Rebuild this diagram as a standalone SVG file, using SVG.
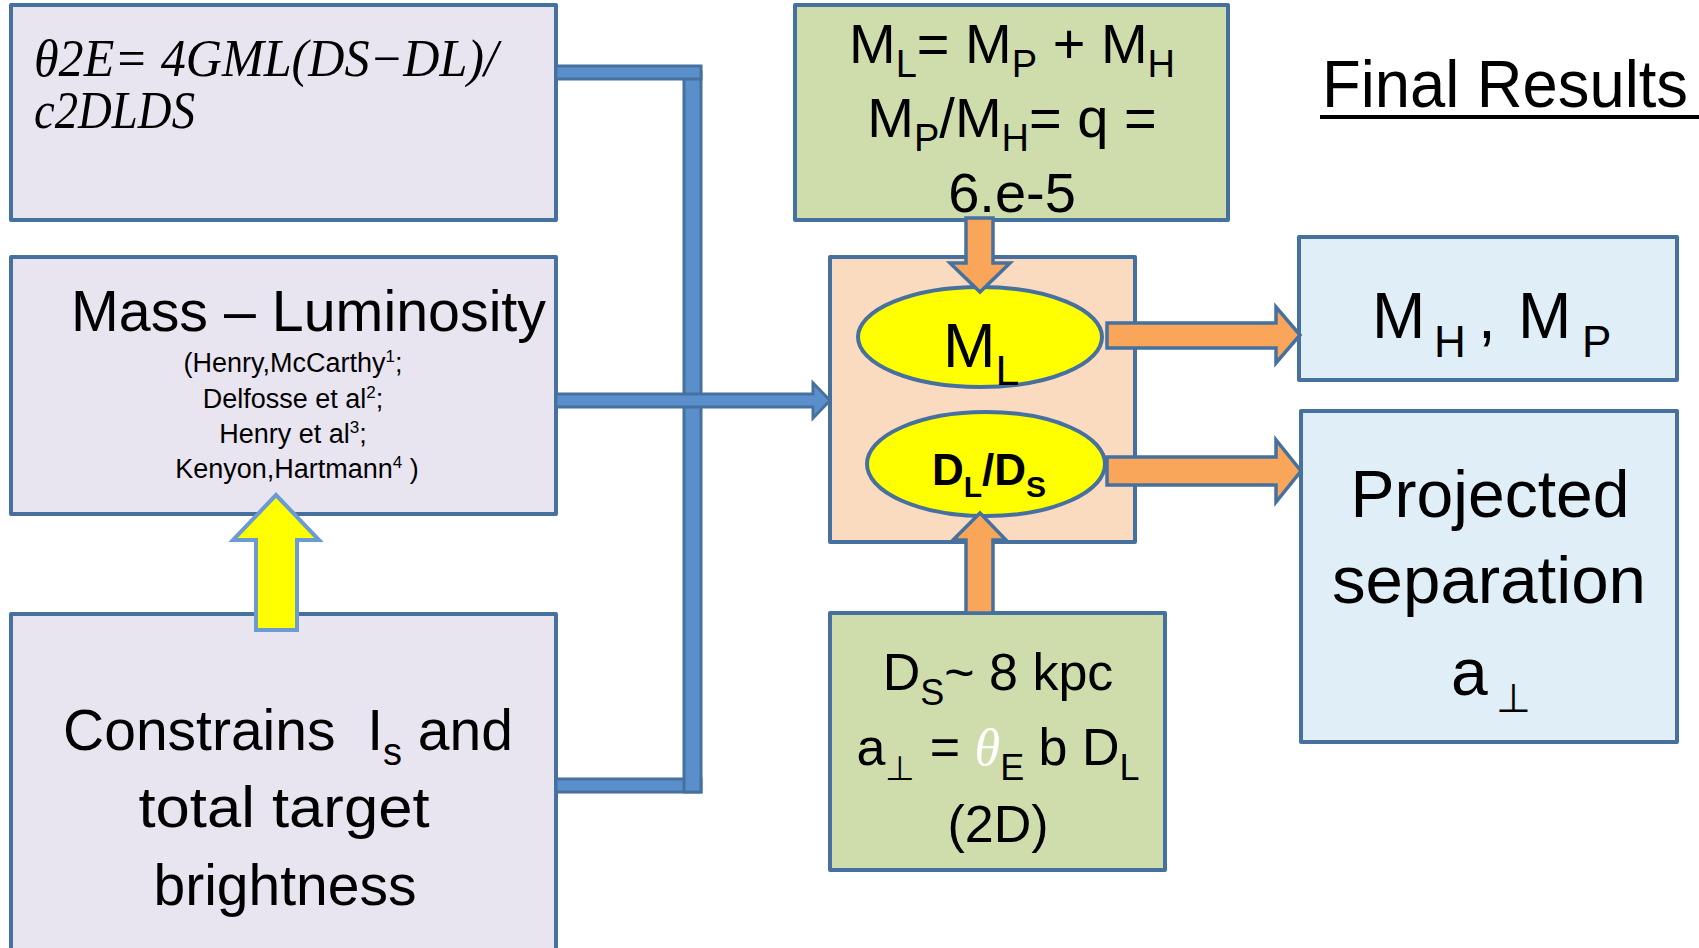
<svg xmlns="http://www.w3.org/2000/svg" width="1699" height="948" viewBox="0 0 1699 948">
<style>
.box{stroke:#46719F;stroke-width:4;stroke-linejoin:round}
.lav{fill:#E9E5F0}
.grn{fill:#CFDDAD}
.pch{fill:#FBDBC0}
.lbl{fill:#DFEEF7}
.ell{fill:#FFFF00;stroke:#46719F;stroke-width:4}
.t{font-family:"Liberation Sans",Arial,sans-serif;fill:#000}
.m{font-family:"Liberation Serif","Times New Roman",serif;font-style:italic}
.sm{font-size:27px}
.conn{fill:#5B8FCB;stroke:#46719F;stroke-width:3;stroke-linejoin:miter}
.orng{fill:#F9A65A;stroke:#46719F;stroke-width:3.5;stroke-linejoin:miter}
.yarr{fill:#FFFF00;stroke:#6C9BD2;stroke-width:4;stroke-linejoin:miter}
</style>
<rect width="1699" height="948" fill="#fff"/>

<g id="formula">
<rect class="box lav" x="11" y="5" width="545" height="215"/>
<text class="m" x="34" y="76" font-size="52" textLength="464" lengthAdjust="spacingAndGlyphs">θ2E= 4GML(DS−DL)/</text>
<text class="m" x="34" y="128" font-size="52" textLength="161" lengthAdjust="spacingAndGlyphs">c2DLDS</text>
</g>

<g id="mass-luminosity">
<rect class="box lav" x="11" y="257" width="545" height="257"/>
<text class="t" x="71" y="331" font-size="57" textLength="475" lengthAdjust="spacingAndGlyphs">Mass – Luminosity</text>
<text class="t sm" x="293" y="372" text-anchor="middle">(Henry,McCarthy<tspan font-size="17" dy="-10">1</tspan><tspan dy="10">;</tspan></text>
<text class="t sm" x="293" y="408" text-anchor="middle">Delfosse et al<tspan font-size="17" dy="-10">2</tspan><tspan dy="10">;</tspan></text>
<text class="t sm" x="293" y="443" text-anchor="middle">Henry et al<tspan font-size="17" dy="-10">3</tspan><tspan dy="10">;</tspan></text>
<text class="t sm" x="297" y="478" text-anchor="middle">Kenyon,Hartmann<tspan font-size="17" dy="-10">4</tspan><tspan dy="10"> )</tspan></text>
</g>

<g id="constrains">
<rect class="box lav" x="11" y="614" width="545" height="360"/>
<text class="t" x="288" y="750" font-size="57" text-anchor="middle" xml:space="preserve">Constrains  I<tspan font-size="38" dy="15">s</tspan><tspan dy="-15"> and</tspan></text>
<text class="t" x="284" y="827" font-size="57" text-anchor="middle" textLength="291" lengthAdjust="spacingAndGlyphs">total target</text>
<text class="t" x="285" y="905" font-size="57" text-anchor="middle">brightness</text>
</g>

<g id="mass-relation">
<rect class="box grn" x="795" y="5" width="433" height="215"/>
<text class="t" x="1012" y="63" font-size="56" text-anchor="middle">M<tspan font-size="38" dy="14">L</tspan><tspan dy="-14">= M</tspan><tspan font-size="38" dy="14">P</tspan><tspan dy="-14"> + M</tspan><tspan font-size="38" dy="14">H</tspan></text>
<text class="t" x="1012" y="137" font-size="56" text-anchor="middle">M<tspan font-size="38" dy="14">P</tspan><tspan dy="-14">/M</tspan><tspan font-size="38" dy="14">H</tspan><tspan dy="-14">= q =</tspan></text>
<text class="t" x="1012" y="212" font-size="56" text-anchor="middle">6.e-5</text>
</g>

<g id="lens">
<rect class="box pch" x="830" y="257" width="305" height="285"/>
<ellipse class="ell" cx="980" cy="337" rx="122" ry="50"/>
<ellipse class="ell" cx="986" cy="464" rx="119" ry="52"/>
<text class="t" x="943" y="367" font-size="63">M<tspan font-size="43" dy="18">L</tspan></text>
<text class="t" x="932" y="485" font-size="44" font-weight="bold">D<tspan font-size="30" dy="12">L</tspan><tspan dy="-12">/D</tspan><tspan font-size="30" dy="12">S</tspan></text>
</g>

<g id="distance">
<rect class="box grn" x="830" y="613" width="335" height="257"/>
<text class="t" x="998" y="690" font-size="52" text-anchor="middle">D<tspan font-size="36" dy="15">S</tspan><tspan dy="-15">~ 8 kpc</tspan></text>
<text class="t" x="998" y="765" font-size="52" text-anchor="middle">a<tspan font-size="34" dy="15">⊥</tspan><tspan dy="-15"> = </tspan><tspan class="m" fill="#fff">θ</tspan><tspan font-size="36" dy="15">E</tspan><tspan dy="-15"> b D</tspan><tspan font-size="36" dy="15">L</tspan></text>
<text class="t" x="998" y="842" font-size="52" text-anchor="middle">(2D)</text>
</g>

<g id="final-results">
<text class="t" x="1322" y="107" font-size="67" textLength="366" lengthAdjust="spacingAndGlyphs">Final Results</text>
<rect x="1320" y="115" width="379" height="4" fill="#000"/>
</g>

<g id="masses">
<rect class="box lbl" x="1299" y="237" width="378" height="143"/>
<text class="t" y="338" font-size="64"><tspan x="1372">M</tspan><tspan x="1434" dy="19" font-size="44">H</tspan><tspan x="1478" dy="-19">,</tspan><tspan x="1518">M</tspan><tspan x="1582" dy="19" font-size="44">P</tspan></text>
</g>

<g id="separation">
<rect class="box lbl" x="1301" y="411" width="376" height="331"/>
<text class="t" x="1490" y="517" font-size="66" text-anchor="middle">Projected</text>
<text class="t" x="1489" y="603" font-size="66" text-anchor="middle" textLength="314" lengthAdjust="spacingAndGlyphs">separation</text>
<text class="t" y="695" font-size="66"><tspan x="1451">a</tspan><tspan x="1496" dy="17" font-size="40">⊥</tspan></text>
</g>

<g id="connectors">
<rect class="conn" x="556" y="779" width="145" height="13"/>
<rect class="conn" x="684" y="72" width="17" height="720"/>
<rect class="conn" x="556" y="66" width="145" height="13"/>
<path class="conn" d="M556,394 H813 V383 L830,400.5 L813,418 V407 H556 Z"/>
<path class="orng" d="M966,218 H993 V263 H1010 L980,292 L950,263 H966 Z"/>
<path class="orng" d="M966,613 V540 H953 L980,513 L1006,540 H993 V613 Z"/>
<path class="orng" d="M1107,323 H1276 V307 L1300,335 L1276,363 V348 H1107 Z"/>
<path class="orng" d="M1107,457 H1276 V440 L1301,471 L1276,502 V485 H1107 Z"/>
<path class="yarr" d="M256,630 V540 H233 L276,495 L319,540 H297 V630 Z"/>
</g>
</svg>
